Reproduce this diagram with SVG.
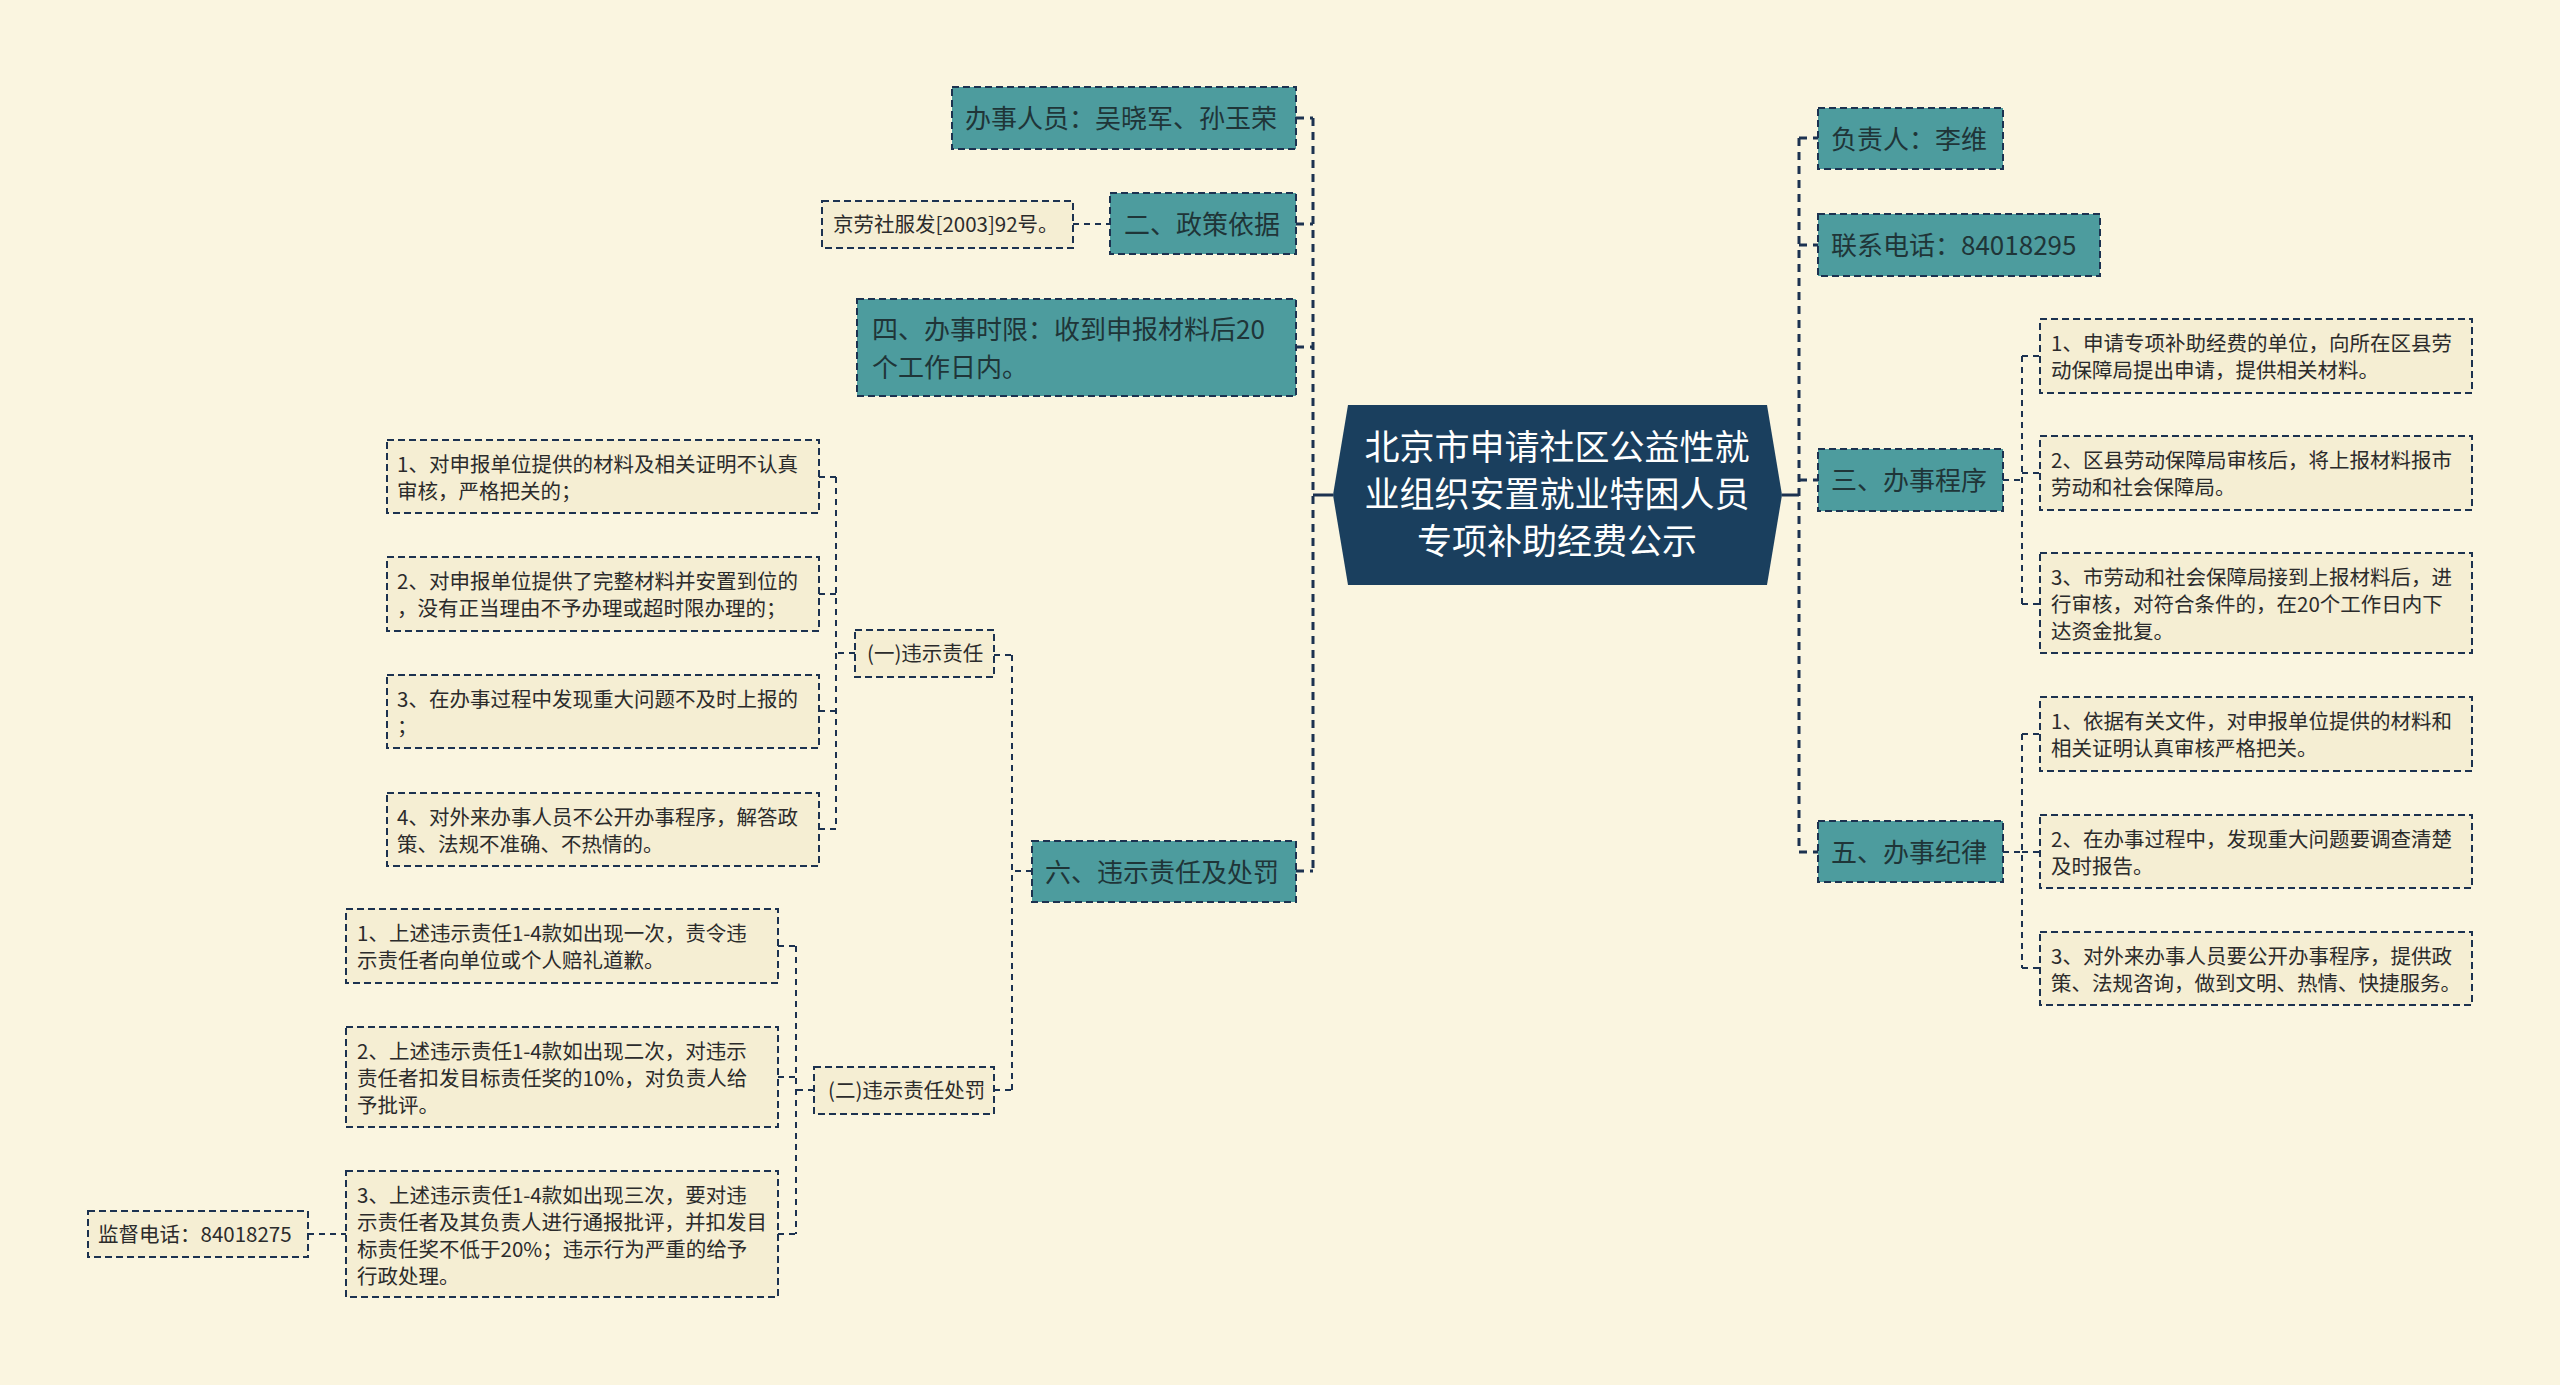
<svg xmlns="http://www.w3.org/2000/svg" width="2560" height="1385" viewBox="0 0 2560 1385">
<style>
text{font-family:'Noto Sans CJK SC','Noto Sans',sans-serif;}
.bg{fill:#faf5e0;}
.main rect{fill:#4d9c9e;stroke:#1c3250;stroke-width:2;stroke-dasharray:7 4;}
.main text{font-size:26px;fill:#1f3538;}
.sub rect{fill:#f5eed3;stroke:#1c3250;stroke-width:2;stroke-dasharray:7 4;}
.sub text{font-size:20.5px;fill:#2b2b2b;}
.root text{font-size:35px;fill:#ffffff;text-anchor:middle;}
.l1{fill:none;stroke:#1c3250;stroke-width:3;stroke-dasharray:8 6;}
.l2{fill:none;stroke:#1c3250;stroke-width:2;stroke-dasharray:6 5;}
.solid{fill:none;stroke:#1c3250;stroke-width:3;}
</style>
<rect class="bg" x="0" y="0" width="2560" height="1385"/>

<g id="connectors">
  <path class="solid" d="M1333 495 H1313 M1782 495 H1799"/>
  <path class="l1" d="M1313 118 V871 M1296 118 H1313 M1296 224 H1313 M1296 347 H1313 M1296 871 H1313"/>
  <path class="l1" d="M1799 138 V852 M1799 138 H1818 M1799 245 H1818 M1799 480 H1818 M1799 852 H1818"/>
  <path class="l2" d="M1073 224 H1110"/>
  <path class="l2" d="M1012 655 V1090 M1032 871 H1012 M994 655 H1012 M994 1090 H1012"/>
  <path class="l2" d="M836 477 V829 M855 653 H836 M819 477 H836 M819 594 H836 M819 711 H836 M819 829 H836"/>
  <path class="l2" d="M796 946 V1234 M814 1090 H796 M778 946 H796 M778 1077 H796 M778 1234 H796"/>
  <path class="l2" d="M308 1234 H346"/>
  <path class="l2" d="M2022 356 V604 M2003 480 H2022 M2022 356 H2040 M2022 473 H2040 M2022 604 H2040"/>
  <path class="l2" d="M2022 734 V968 M2003 852 H2022 M2022 734 H2040 M2022 852 H2040 M2022 968 H2040"/>
</g>

<g id="root" class="root">
  <polygon points="1333,495 1348,405 1767,405 1782,495 1767,585 1348,585" fill="#1a3f5e"/>
  <text x="1557" y="460">北京市申请社区公益性就</text>
  <text x="1557" y="507">业组织安置就业特困人员</text>
  <text x="1557" y="554">专项补助经费公示</text>
</g>

<g id="n-staff" class="main"><rect x="952" y="87" width="344" height="62"/><text x="965" y="128">办事人员：吴晓军、孙玉荣</text></g>
<g id="n-policy" class="main"><rect x="1110" y="193" width="186" height="61"/><text x="1124" y="233.5">二、政策依据</text></g>
<g id="n-policy-doc" class="sub"><rect x="822" y="201" width="251" height="47"/><text x="833" y="232">京劳社服发[2003]92号。</text></g>
<g id="n-time" class="main"><rect x="857" y="299" width="439" height="97"/><text x="872" y="338.5">四、办事时限：收到申报材料后20</text><text x="872" y="377">个工作日内。</text></g>
<g id="n-penalty" class="main"><rect x="1032" y="841" width="264" height="61"/><text x="1045" y="881.5">六、违示责任及处罚</text></g>

<g id="n-resp" class="sub"><rect x="855" y="630" width="139" height="47"/><text x="867" y="661">(一)违示责任</text></g>
<g id="n-resp-1" class="sub"><rect x="387" y="440" width="432" height="73"/><text x="397" y="471.5">1、对申报单位提供的材料及相关证明不认真</text><text x="397" y="498.5">审核，严格把关的；</text></g>
<g id="n-resp-2" class="sub"><rect x="387" y="557" width="432" height="74"/><text x="397" y="588.5">2、对申报单位提供了完整材料并安置到位的</text><text x="397" y="615.5">，没有正当理由不予办理或超时限办理的；</text></g>
<g id="n-resp-3" class="sub"><rect x="387" y="675" width="432" height="73"/><text x="397" y="706.5">3、在办事过程中发现重大问题不及时上报的</text><text x="397" y="733.5">；</text></g>
<g id="n-resp-4" class="sub"><rect x="387" y="793" width="432" height="73"/><text x="397" y="824.5">4、对外来办事人员不公开办事程序，解答政</text><text x="397" y="851.5">策、法规不准确、不热情的。</text></g>

<g id="n-pun" class="sub"><rect x="814" y="1067" width="180" height="47"/><text x="828" y="1098">(二)违示责任处罚</text></g>
<g id="n-pun-1" class="sub"><rect x="346" y="909" width="432" height="74"/><text x="357" y="940.5">1、上述违示责任1-4款如出现一次，责令违</text><text x="357" y="967.5">示责任者向单位或个人赔礼道歉。</text></g>
<g id="n-pun-2" class="sub"><rect x="346" y="1027" width="432" height="100"/><text x="357" y="1058.5">2、上述违示责任1-4款如出现二次，对违示</text><text x="357" y="1085.5">责任者扣发目标责任奖的10%，对负责人给</text><text x="357" y="1112.5">予批评。</text></g>
<g id="n-pun-3" class="sub"><rect x="346" y="1171" width="432" height="126"/><text x="357" y="1202.5">3、上述违示责任1-4款如出现三次，要对违</text><text x="357" y="1229.5">示责任者及其负责人进行通报批评，并扣发目</text><text x="357" y="1256.5">标责任奖不低于20%；违示行为严重的给予</text><text x="357" y="1283.5">行政处理。</text></g>
<g id="n-hotline" class="sub"><rect x="88" y="1211" width="220" height="46"/><text x="98" y="1241.5">监督电话：84018275</text></g>

<g id="n-leader" class="main"><rect x="1818" y="108" width="185" height="61"/><text x="1831" y="148.5">负责人：李维</text></g>
<g id="n-phone" class="main"><rect x="1818" y="214" width="282" height="62"/><text x="1831" y="255">联系电话：84018295</text></g>
<g id="n-proc" class="main"><rect x="1818" y="449" width="185" height="62"/><text x="1831" y="490">三、办事程序</text></g>
<g id="n-disc" class="main"><rect x="1818" y="821" width="185" height="61"/><text x="1831" y="861.5">五、办事纪律</text></g>

<g id="n-proc-1" class="sub"><rect x="2040" y="319" width="432" height="74"/><text x="2051" y="350.5">1、申请专项补助经费的单位，向所在区县劳</text><text x="2051" y="377.5">动保障局提出申请，提供相关材料。</text></g>
<g id="n-proc-2" class="sub"><rect x="2040" y="436" width="432" height="74"/><text x="2051" y="467.5">2、区县劳动保障局审核后，将上报材料报市</text><text x="2051" y="494.5">劳动和社会保障局。</text></g>
<g id="n-proc-3" class="sub"><rect x="2040" y="553" width="432" height="100"/><text x="2051" y="584.5">3、市劳动和社会保障局接到上报材料后，进</text><text x="2051" y="611.5">行审核，对符合条件的，在20个工作日内下</text><text x="2051" y="638.5">达资金批复。</text></g>

<g id="n-disc-1" class="sub"><rect x="2040" y="697" width="432" height="74"/><text x="2051" y="728.5">1、依据有关文件，对申报单位提供的材料和</text><text x="2051" y="755.5">相关证明认真审核严格把关。</text></g>
<g id="n-disc-2" class="sub"><rect x="2040" y="815" width="432" height="73"/><text x="2051" y="846.5">2、在办事过程中，发现重大问题要调查清楚</text><text x="2051" y="873.5">及时报告。</text></g>
<g id="n-disc-3" class="sub"><rect x="2040" y="932" width="432" height="73"/><text x="2051" y="963.5">3、对外来办事人员要公开办事程序，提供政</text><text x="2051" y="990.5">策、法规咨询，做到文明、热情、快捷服务。</text></g>
</svg>
